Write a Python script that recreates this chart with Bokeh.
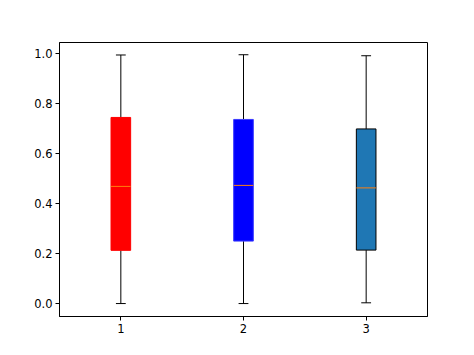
from bokeh.plotting import figure
from bokeh.models import FixedTicker, Range1d
from bokeh.embed import file_html
from bokeh.resources import INLINE

positions = [1, 2, 3]
x_labels = ["1", "2", "3"]
whisker_low = [0.001, 0.001, 0.004]
q1 = [0.214, 0.251, 0.215]
median = [0.470, 0.474, 0.464]
q3 = [0.746, 0.738, 0.700]
whisker_high = [0.996, 0.997, 0.993]
fill_colors = ["red", "blue", "#1f77b4"]
edge_colors = ["red", "#3b3bff", "black"]
y_ticks = [0.0, 0.2, 0.4, 0.6, 0.8, 1.0]

box_w = 0.16
cap_w = 0.08

p = figure(width=474, height=355, output_backend="svg", toolbar_location=None,
           x_range=Range1d(0.5, 3.5), y_range=Range1d(-0.0508, 1.046),
           min_border_left=59, min_border_right=47, min_border_top=42, min_border_bottom=39)
p.frame_width = 368
p.frame_height = 274

p.xgrid.visible = False
p.ygrid.visible = False
p.outline_line_color = "black"
p.outline_line_width = 1
p.background_fill_color = "white"
p.border_fill_color = "white"

# whiskers
p.segment(x0=positions, y0=q3, x1=positions, y1=whisker_high, line_color="black", line_width=1)
p.segment(x0=positions, y0=whisker_low, x1=positions, y1=q1, line_color="black", line_width=1)
# caps
p.segment(x0=[x - cap_w / 2 for x in positions], y0=whisker_high,
          x1=[x + cap_w / 2 for x in positions], y1=whisker_high, line_color="black", line_width=1)
p.segment(x0=[x - cap_w / 2 for x in positions], y0=whisker_low,
          x1=[x + cap_w / 2 for x in positions], y1=whisker_low, line_color="black", line_width=1)
# boxes
p.vbar(x=positions, width=box_w, top=q3, bottom=q1, fill_color=fill_colors,
       line_color=edge_colors, line_width=1)
# medians
p.segment(x0=[x - box_w / 2 for x in positions], y0=median,
          x1=[x + box_w / 2 for x in positions], y1=median, line_color="#ff7f0e", line_width=1)

for ax in (p.xaxis[0], p.yaxis[0]):
    ax.axis_line_color = "black"
    ax.major_tick_line_color = "black"
    ax.major_tick_out = 4
    ax.major_tick_in = 0
    ax.minor_tick_line_color = None
    ax.major_label_text_font = "DejaVu Sans"
    ax.major_label_text_font_size = "11.5px"
    ax.major_label_text_color = "black"
    ax.major_label_standoff = 3

p.xaxis.ticker = FixedTicker(ticks=positions)
p.xaxis.major_label_overrides = {pos: lab for pos, lab in zip(positions, x_labels)}
p.yaxis.ticker = FixedTicker(ticks=y_ticks)
p.yaxis.major_label_overrides = {t: f"{t:.1f}" for t in y_ticks}

open("out.html", "w").write(file_html(p, INLINE))
